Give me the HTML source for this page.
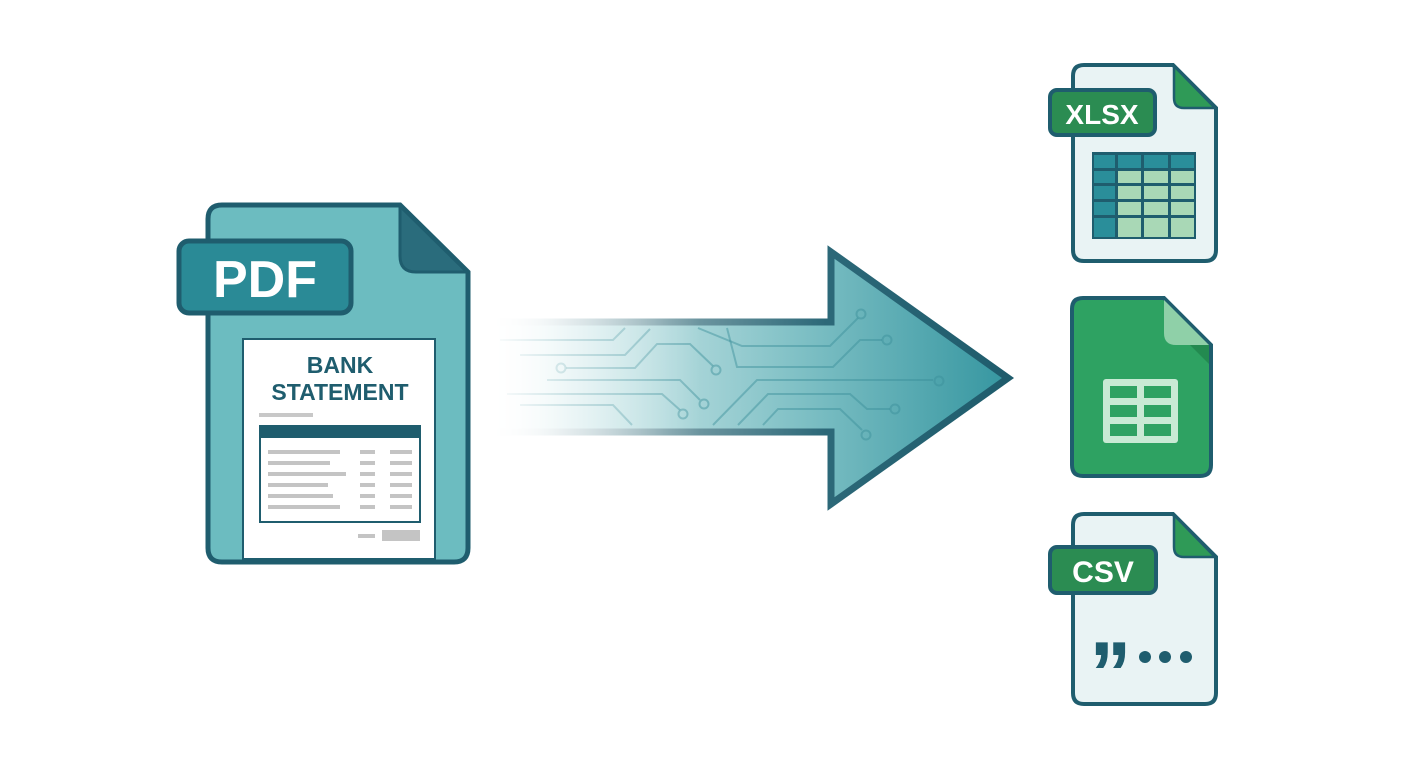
<!DOCTYPE html>
<html><head><meta charset="utf-8"><style>
html,body{margin:0;padding:0;background:#fff;}
svg{display:block;}
text{font-family:"Liberation Sans",sans-serif;font-weight:bold;}
</style></head><body>
<svg width="1408" height="768" viewBox="0 0 1408 768" xmlns="http://www.w3.org/2000/svg">
<defs>
<linearGradient id="af" x1="485" y1="0" x2="1010" y2="0" gradientUnits="userSpaceOnUse">
<stop offset="0" stop-color="#ffffff"/><stop offset="0.25" stop-color="#c4e3e5"/><stop offset="0.6" stop-color="#7fc0c5"/><stop offset="1" stop-color="#3596a0"/>
</linearGradient>
<linearGradient id="as" x1="485" y1="0" x2="1010" y2="0" gradientUnits="userSpaceOnUse">
<stop offset="0" stop-color="#ffffff"/><stop offset="0.1" stop-color="#e0eaec"/><stop offset="0.35" stop-color="#7a9fa8"/><stop offset="0.65" stop-color="#2c6878"/><stop offset="1" stop-color="#1f5c6c"/>
</linearGradient>
<linearGradient id="mk" x1="485" y1="0" x2="700" y2="0" gradientUnits="userSpaceOnUse">
<stop offset="0" stop-color="#fff" stop-opacity="0"/><stop offset="0.4" stop-color="#fff" stop-opacity="0.5"/><stop offset="1" stop-color="#fff" stop-opacity="1"/>
</linearGradient>
<mask id="m"><rect x="0" y="0" width="1408" height="768" fill="url(#mk)"/></mask>
</defs>

<!-- PDF doc -->
<path d="M222 205 H400 L468 272 V548 Q468 562 454 562 H222 Q208 562 208 548 V219 Q208 205 222 205 Z" fill="#6cbcc0" stroke="#1f5d6e" stroke-width="5"/>
<path d="M400 206 V256 Q400 272 416 272 H467 Z" fill="#2a6c7c" stroke="#1f5d6e" stroke-width="3" stroke-linejoin="round"/>
<rect x="179" y="241" width="172" height="72" rx="10" fill="#2a8a96" stroke="#1f5d6e" stroke-width="5"/>
<text x="265" y="297" font-size="52" fill="#fff" text-anchor="middle">PDF</text>
<rect x="243" y="339" width="192" height="220" fill="#fff" stroke="#1f5d6e" stroke-width="2"/>
<text x="340" y="373" font-size="23" fill="#1f5d6e" text-anchor="middle">BANK</text>
<text x="340" y="400" font-size="23" fill="#1f5d6e" text-anchor="middle">STATEMENT</text>
<rect x="259" y="413" width="54" height="4" fill="#c8c8c8"/>
<rect x="260" y="426" width="160" height="96" fill="#fff" stroke="#1f5d6e" stroke-width="2"/>
<rect x="260" y="426" width="160" height="12" fill="#1f5d6e"/>
<g fill="#c4c4c4">
<rect x="268" y="450" width="72" height="4"/><rect x="360" y="450" width="15" height="4"/><rect x="390" y="450" width="22" height="4"/>
<rect x="268" y="461" width="62" height="4"/><rect x="360" y="461" width="15" height="4"/><rect x="390" y="461" width="22" height="4"/>
<rect x="268" y="472" width="78" height="4"/><rect x="360" y="472" width="15" height="4"/><rect x="390" y="472" width="22" height="4"/>
<rect x="268" y="483" width="60" height="4"/><rect x="360" y="483" width="15" height="4"/><rect x="390" y="483" width="22" height="4"/>
<rect x="268" y="494" width="65" height="4"/><rect x="360" y="494" width="15" height="4"/><rect x="390" y="494" width="22" height="4"/>
<rect x="268" y="505" width="72" height="4"/><rect x="360" y="505" width="15" height="4"/><rect x="390" y="505" width="22" height="4"/>
<rect x="358" y="534" width="17" height="4"/><rect x="382" y="530" width="38" height="11"/>
</g>

<!-- Arrow -->
<g mask="url(#m)">
<path d="M485 322 H831 V252 L1008 378 L831 504 V432 H485 Z" fill="url(#af)" stroke="url(#as)" stroke-width="7" stroke-linejoin="miter"/>
<g fill="none" stroke="#3a8e98" stroke-opacity="0.45" stroke-width="2">
<path d="M500 340 H613 L625 328"/>
<path d="M520 355 H625 L650 329"/>
<circle cx="561" cy="368" r="4.5"/>
<path d="M566 368 H635 L657 344 H690 L713 366"/>
<circle cx="716" cy="370" r="4.5"/>
<path d="M547 380 H680 L700 400"/>
<circle cx="704" cy="404" r="4.5"/>
<path d="M507 394 H662 L680 410"/>
<circle cx="683" cy="414" r="4.5"/>
<path d="M520 405 H613 L632 425"/>
<path d="M698 328 L742 346 H830 L858 318"/>
<circle cx="861" cy="314" r="4.5"/>
<path d="M727 328 L737 367 H833 L860 340 H882"/>
<circle cx="887" cy="340" r="4.5"/>
<path d="M713 425 L757 380 H933"/>
<circle cx="939" cy="381" r="4.5"/>
<path d="M738 425 L768 394 H850 L867 409 H890"/>
<circle cx="895" cy="409" r="4.5"/>
<path d="M763 425 L778 409 H840 L862 430"/>
<circle cx="866" cy="435" r="4.5"/>
</g>
</g>

<!-- XLSX -->
<path d="M1084 65 H1173 L1216 108 V250 Q1216 261 1205 261 H1084 Q1073 261 1073 250 V76 Q1073 65 1084 65 Z" fill="#e9f3f4" stroke="#1f5d6e" stroke-width="4"/>
<path d="M1174 66 V98 Q1174 108 1184 108 H1215 Z" fill="#2f9a57" stroke="#1f5d6e" stroke-width="2.5" stroke-linejoin="round"/>
<rect x="1050" y="90" width="105" height="45" rx="7" fill="#2b8c52" stroke="#1f5d6e" stroke-width="4"/>
<text x="1102" y="124" font-size="28" fill="#fff" text-anchor="middle">XLSX</text>
<rect x="1092" y="152" width="104" height="87" fill="#1f5d6e"/>
<g fill="#a9d8b6">
<rect x="1118" y="171" width="23" height="12"/><rect x="1144" y="171" width="24" height="12"/><rect x="1171" y="171" width="23" height="12"/>
<rect x="1118" y="186" width="23" height="13"/><rect x="1144" y="186" width="24" height="13"/><rect x="1171" y="186" width="23" height="13"/>
<rect x="1118" y="202" width="23" height="13"/><rect x="1144" y="202" width="24" height="13"/><rect x="1171" y="202" width="23" height="13"/>
<rect x="1118" y="218" width="23" height="19"/><rect x="1144" y="218" width="24" height="19"/><rect x="1171" y="218" width="23" height="19"/>
</g>
<g fill="#2a8e9a">
<rect x="1094" y="155" width="21" height="13"/><rect x="1118" y="155" width="23" height="13"/><rect x="1144" y="155" width="24" height="13"/><rect x="1171" y="155" width="23" height="13"/>
<rect x="1094" y="171" width="21" height="12"/><rect x="1094" y="186" width="21" height="13"/><rect x="1094" y="202" width="21" height="13"/><rect x="1094" y="218" width="21" height="19"/>
</g>

<!-- Google sheets -->
<path d="M1083 298 H1164 L1211 345 V465 Q1211 476 1200 476 H1083 Q1072 476 1072 465 V309 Q1072 298 1083 298 Z" fill="#2ea262" stroke="#1f5d6e" stroke-width="4"/>
<path d="M1190 345 L1209 364 V345 Z" fill="#238a50"/>
<path d="M1164 300 V333 Q1164 345 1176 345 H1209 Z" fill="#8fd0a8"/>
<rect x="1103" y="379" width="75" height="64" rx="3" fill="#c8ead4"/>
<g fill="#2ea262">
<rect x="1110" y="386" width="27" height="12"/><rect x="1144" y="386" width="27" height="12"/>
<rect x="1110" y="405" width="27" height="12"/><rect x="1144" y="405" width="27" height="12"/>
<rect x="1110" y="424" width="27" height="12"/><rect x="1144" y="424" width="27" height="12"/>
</g>

<!-- CSV -->
<path d="M1084 514 H1173 L1216 557 V693 Q1216 704 1205 704 H1084 Q1073 704 1073 693 V525 Q1073 514 1084 514 Z" fill="#e9f3f4" stroke="#1f5d6e" stroke-width="4"/>
<path d="M1174 515 V547 Q1174 557 1184 557 H1215 Z" fill="#2f9a57" stroke="#1f5d6e" stroke-width="2.5" stroke-linejoin="round"/>
<rect x="1050" y="547" width="106" height="46" rx="7" fill="#2b8c52" stroke="#1f5d6e" stroke-width="4"/>
<text x="1103" y="582" font-size="30" fill="#fff" text-anchor="middle">CSV</text>
<text x="1090" y="655" font-size="84" fill="#1f5d6e" letter-spacing="-6">,,</text>
<g fill="#1f5d6e"><circle cx="1145" cy="657" r="6"/><circle cx="1165" cy="657" r="6"/><circle cx="1186" cy="657" r="6"/></g>
</svg>
</body></html>
